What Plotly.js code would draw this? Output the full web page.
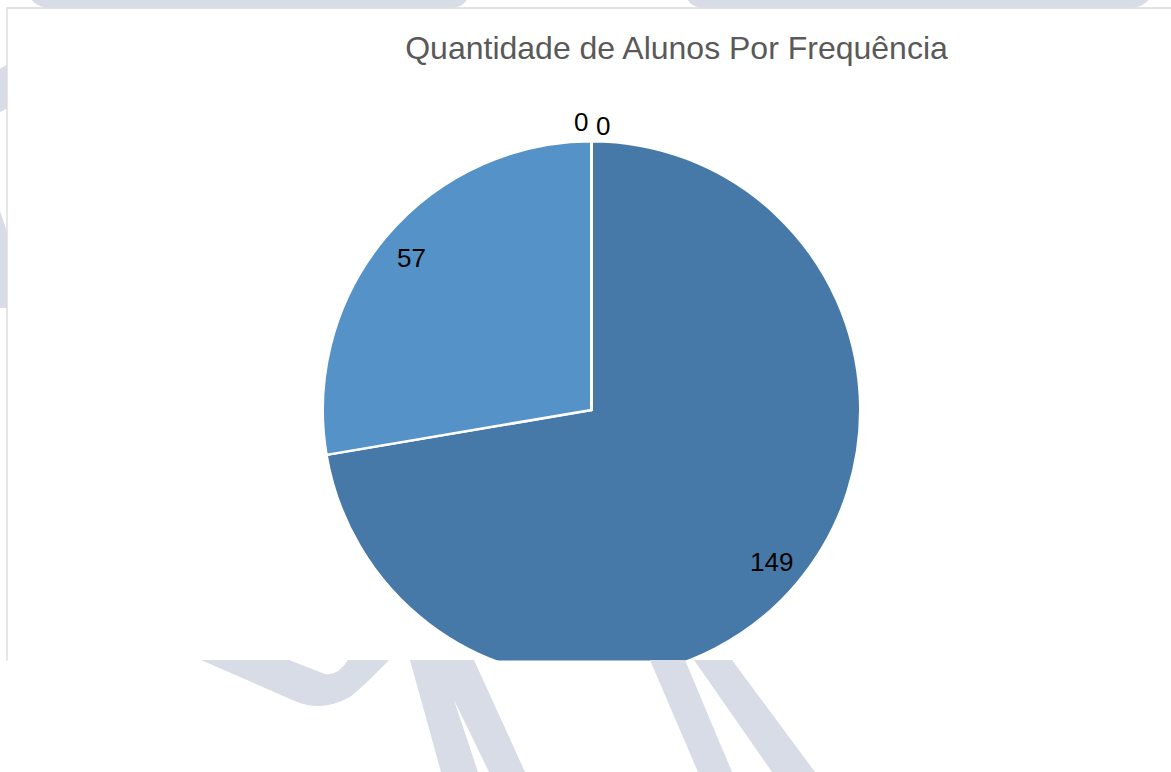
<!DOCTYPE html>
<html>
<head>
<meta charset="utf-8">
<script src="https://cdn.plot.ly/plotly-3.0.1.min.js"></script>
<style>
  html, body { margin: 0; padding: 0; background: #ffffff; }
  #chart { width: 1171px; height: 772px; }
</style>
</head>
<body>
<div id="chart"></div>
<script>
// ---- data ----
const chartTitle = 'Quantidade de Alunos Por Frequência';
const categories = ['Frequência A', 'Frequência B', 'Frequência C', 'Frequência D'];
const studentCounts = [149, 57, 0, 0];
const sliceColors = ['#4779A8', '#5592C7', '#A5A5A5', '#FFC000'];

// ---- layout geometry (pixels) ----
const W = 1171, H = 772;
const CX = 591.5, CY = 410, R = 267.5;
const SLICE_LINE = 2.5;
const RD = R + SLICE_LINE / 2;
const FONT = 'Liberation Sans, Arial, sans-serif';
const WM = '#D8DCE6';

const px = x => x / W;
const py = y => 1 - y / H;
function pathFrom(cmds) {
  // cmds: array of [letter, x, y, (x2, y2)]
  return cmds.map(c => {
    if (c[0] === 'Z') return 'Z';
    const pts = [];
    for (let i = 1; i < c.length; i += 2) pts.push(px(c[i]).toFixed(5) + ',' + py(c[i + 1]).toFixed(5));
    return c[0] + pts.join(' ');
  }).join(' ');
}
function shapePath(cmds, color, layer) {
  return { type: 'path', xref: 'paper', yref: 'paper', layer: layer,
           path: pathFrom(cmds), fillcolor: color, line: { width: 0 } };
}

// ---- background decoration (watermark + panel) ----
const shapes = [
  shapePath([['M', 30, -2], ['L', 467, -2], ['Q', 466, 5, 455, 7.5], ['L', 45, 7.5], ['Q', 36, 6, 30, -2], ['Z']], WM, 'below'),
  shapePath([['M', 687, -2], ['L', 1150, -2], ['Q', 1146, 5, 1135, 7.5], ['L', 700, 7.5], ['Q', 690, 6, 687, -2], ['Z']], WM, 'below'),
  shapePath([['M', -2, 70], ['L', 8, 64], ['L', 8, 108], ['L', -2, 113], ['Z']], WM, 'below'),
  shapePath([['M', -2, 205], ['L', 8, 235], ['L', 8, 308], ['L', -2, 308], ['Z']], WM, 'below'),
  { type: 'rect', xref: 'paper', yref: 'paper', layer: 'below',
    x0: px(7), x1: px(1190), y0: py(8), y1: py(720),
    fillcolor: '#FFFFFF', line: { color: '#D9D9D9', width: 1.3 } },
  // cover the pie below the panel bottom edge
  { type: 'rect', xref: 'paper', yref: 'paper', layer: 'above',
    x0: px(-5), x1: px(1180), y0: py(660.5), y1: py(790),
    fillcolor: '#FFFFFF', line: { width: 0 } },
  shapePath([['M', 201, 660], ['L', 297, 702], ['Q', 323, 712, 350, 697], ['Q', 365, 685, 389, 660],
             ['L', 348, 660], ['Q', 338, 676, 325, 674], ['L', 289, 660], ['Z']], WM, 'above'),
  shapePath([['M', 410, 660], ['L', 474, 660], ['L', 525, 772], ['L', 489, 772], ['L', 454, 700],
             ['L', 478, 772], ['L', 441, 772], ['Z']], WM, 'above'),
  shapePath([['M', 650, 660], ['L', 685, 660], ['L', 732, 772], ['L', 698, 772], ['Z']], WM, 'above'),
  shapePath([['M', 694, 660], ['L', 732, 660], ['L', 815, 772], ['L', 772, 772], ['Z']], WM, 'above')
];

// ---- data labels positioned from the slice angles ----
const total = studentCounts.reduce((a, b) => a + b, 0);
const zeroNudge = [[-10, -3], [12, 1]];
const annotations = [];
let cum = 0, zi = 0;
studentCounts.forEach(v => {
  let x, y;
  if (v > 0) {
    const a = (cum + v / 2) / total * 2 * Math.PI;
    x = CX + 0.88 * R * Math.sin(a);
    y = CY - 0.88 * R * Math.cos(a);
  } else {
    const a = cum / total * 2 * Math.PI;
    const n = zeroNudge[zi++ % zeroNudge.length];
    x = CX + 1.065 * R * Math.sin(a) + n[0];
    y = CY - 1.065 * R * Math.cos(a) + n[1];
  }
  annotations.push({ xref: 'paper', yref: 'paper', x: px(x), y: py(y),
    xanchor: 'center', yanchor: 'middle', showarrow: false,
    text: String(v), font: { family: FONT, size: 26, color: '#000000' } });
  cum += v;
});

const trace = {
  type: 'pie',
  labels: categories,
  values: studentCounts,
  sort: false,
  direction: 'clockwise',
  rotation: 0,
  textinfo: 'none',
  hoverinfo: 'label+value',
  marker: { colors: sliceColors, line: { color: '#FFFFFF', width: SLICE_LINE } },
  domain: { x: [px(CX - RD), px(CX + RD)], y: [py(CY + RD), py(CY - RD)] },
  showlegend: false
};

const layout = {
  width: W, height: H, autosize: false,
  margin: { l: 0, r: 0, t: 0, b: 0 },
  paper_bgcolor: '#FFFFFF',
  showlegend: false,
  title: { text: chartTitle, font: { family: FONT, size: 32, color: '#595959' },
           x: px(676.5), xref: 'paper', xanchor: 'center',
           y: py(47.8), yref: 'container', yanchor: 'middle' },
  shapes: shapes,
  annotations: annotations
};

Plotly.newPlot('chart', [trace], layout, { displayModeBar: false, staticPlot: true });
</script>
</body>
</html>
